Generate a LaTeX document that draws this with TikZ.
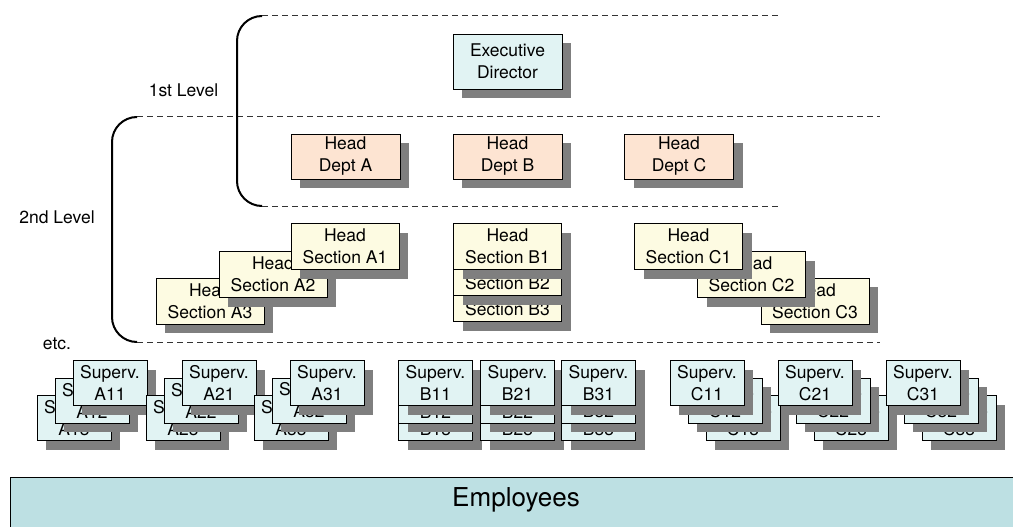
\documentclass[tikz,border=0pt]{standalone}
\usepackage{fontspec}
\setmainfont{TeX Gyre Heros}
\usetikzlibrary{shadows}

\definecolor{cyanfill}{HTML}{E1F3F3}
\definecolor{peachfill}{HTML}{FDE4D2}
\definecolor{creamfill}{HTML}{FDFBE2}
\definecolor{empfill}{HTML}{BDE0E3}
\definecolor{shadowgray}{HTML}{7F7F7F}
\definecolor{guidegray}{HTML}{333333}

\newcommand\boxfont{\fontsize{17.5}{22}\selectfont}

\tikzset{
  orgbox/.style={draw=black, line width=0.9pt, inner sep=0pt, align=center,
    font=\boxfont,
    drop shadow={shadow xshift=9pt, shadow yshift=-9pt, fill=shadowgray, opacity=1}},
  execbox/.style={orgbox, fill=cyanfill, minimum width=109pt, minimum height=55pt},
  deptbox/.style={orgbox, fill=peachfill, minimum width=109pt, minimum height=45pt},
  secbox/.style={orgbox, fill=creamfill, minimum width=108pt, minimum height=46pt},
  supbox/.style={orgbox, fill=cyanfill, minimum width=74pt, minimum height=45pt},
  guide/.style={draw=guidegray, line width=1pt, dash pattern=on 6pt off 4pt},
  bracket/.style={draw=black, line width=2pt, rounded corners=25pt},
  levellabel/.style={font=\boxfont, inner sep=0pt},
}

\begin{document}
\begin{tikzpicture}[x=1pt, y=-1pt]
\useasboundingbox (0,0) rectangle (1013,527);

% level guides
\coordinate (g1a) at (262,16);   \coordinate (g1b) at (780,16);
\coordinate (g2a) at (137,117);  \coordinate (g2b) at (880,117);
\coordinate (g3a) at (262,206);  \coordinate (g3b) at (780,206);
\coordinate (g4a) at (137,342);  \coordinate (g4b) at (880,342);
\draw[guide] (g1a) -- (g1b);
\draw[guide] (g2a) -- (g2b);
\draw[guide] (g3a) -- (g3b);
\draw[guide] (g4a) -- (g4b);

% level brackets
\draw[bracket] (g1a) -- (237,16) -- (237,206) -- (g3a);
\draw[bracket] (g2a) -- (112,117) -- (112,342) -- (g4a);

\node[levellabel] (lvl1) at (183.5,90) {1st Level};
\node[levellabel] (lvl2) at (57,217) {2nd Level};
\node[levellabel] (etc) at (57,344) {etc.};

% executive level
\node[execbox] (exec) at (507.5,61.5) {Executive\\Director};

% department heads
\node[deptbox] (deptA) at (345.5,156.5) {Head\\Dept A};
\node[deptbox] (deptB) at (507.5,156.5) {Head\\Dept B};
\node[deptbox] (deptC) at (679,156.5) {Head\\Dept C};

% section heads
\node[secbox] (secA3) at (210,301) {Head\\Section A3};
\node[secbox] (secA2) at (273,274.5) {Head\\Section A2};
\node[secbox] (secA1) at (345,246.5) {Head\\Section A1};

\node[secbox] (secB3) at (507.5,298.5) {Head\\Section B3};
\node[secbox] (secB2) at (507.5,272.5) {Head\\Section B2};
\node[secbox] (secB1) at (507.5,246.5) {Head\\Section B1};

\node[secbox] (secC3) at (815,301) {Head\\Section C3};
\node[secbox] (secC2) at (751.5,274.5) {Head\\Section C2};
\node[secbox] (secC1) at (688.5,246.5) {Head\\Section C1};

% supervisors, department A
\node[supbox] (supA13) at (74,418) {Superv.\\A13};
\node[supbox] (supA12) at (92,400.5) {Superv.\\A12};
\node[supbox] (supA11) at (110,383) {Superv.\\A11};
\node[supbox] (supA23) at (183,418) {Superv.\\A23};
\node[supbox] (supA22) at (201,400.5) {Superv.\\A22};
\node[supbox] (supA21) at (219,383) {Superv.\\A21};
\node[supbox] (supA33) at (291,418) {Superv.\\A33};
\node[supbox] (supA32) at (309,400.5) {Superv.\\A32};
\node[supbox] (supA31) at (327,383) {Superv.\\A31};

% supervisors, department B
\node[supbox] (supB13) at (435.5,418) {Superv.\\B13};
\node[supbox] (supB12) at (435.5,400.5) {Superv.\\B12};
\node[supbox] (supB11) at (435.5,383) {Superv.\\B11};
\node[supbox] (supB23) at (517.5,418) {Superv.\\B23};
\node[supbox] (supB22) at (517.5,400.5) {Superv.\\B22};
\node[supbox] (supB21) at (517.5,383) {Superv.\\B21};
\node[supbox] (supB33) at (598.5,418) {Superv.\\B33};
\node[supbox] (supB32) at (598.5,400.5) {Superv.\\B32};
\node[supbox] (supB31) at (598.5,383) {Superv.\\B31};

% supervisors, department C
\node[supbox] (supC13) at (743,418) {Superv.\\C13};
\node[supbox] (supC12) at (725,400.5) {Superv.\\C12};
\node[supbox] (supC11) at (707,383) {Superv.\\C11};
\node[supbox] (supC23) at (851,418) {Superv.\\C23};
\node[supbox] (supC22) at (833,400.5) {Superv.\\C22};
\node[supbox] (supC21) at (815,383) {Superv.\\C21};
\node[supbox] (supC33) at (959,418) {Superv.\\C33};
\node[supbox] (supC32) at (941,400.5) {Superv.\\C32};
\node[supbox] (supC31) at (923,383) {Superv.\\C31};

% employees band
\node[draw=black, line width=0.9pt, fill=empfill, inner sep=0pt, anchor=north west,
      minimum width=1020pt, minimum height=70pt] (emp) at (10,477) {};
\node[font=\fontsize{26}{30}\selectfont, inner sep=0pt] (emplabel) at (516,500) {Employees};
\end{tikzpicture}
\end{document}
